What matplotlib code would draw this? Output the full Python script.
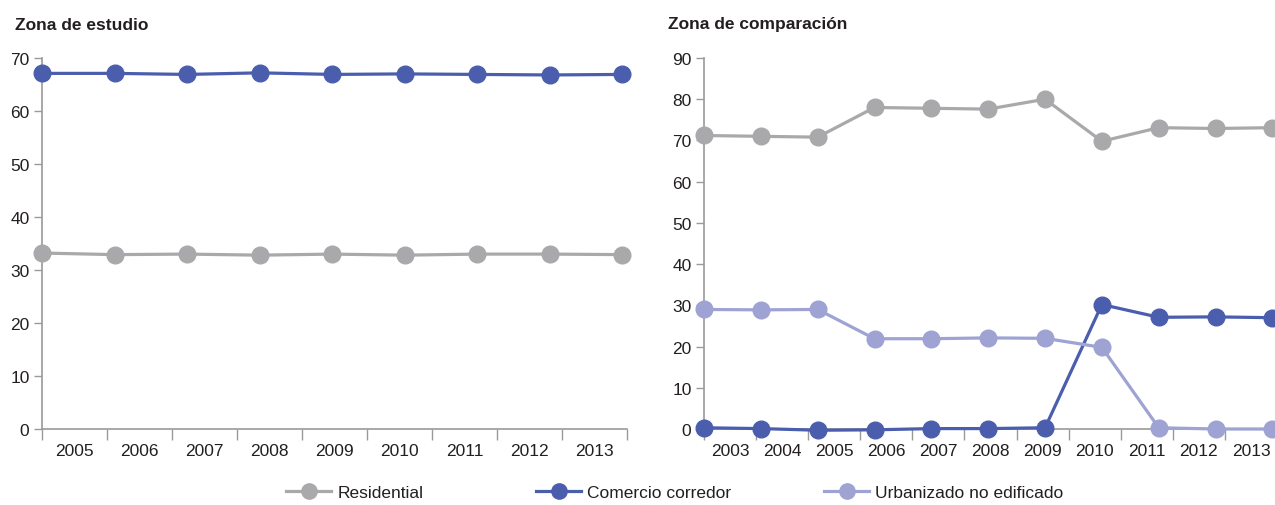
import numpy as np
import matplotlib.pyplot as plt
from matplotlib.lines import Line2D

plt.rcParams['font.family'] = ['Liberation Sans Narrow', 'Liberation Sans', 'DejaVu Sans']

# ------------------------------------------------------------
# datos
# ------------------------------------------------------------
years_estudio = ['2005', '2006', '2007', '2008', '2009', '2010', '2011', '2012', '2013']
estudio_residential = [33.2, 32.9, 33.0, 32.8, 33.0, 32.8, 33.0, 33.0, 32.9]
estudio_comercio = [67.1, 67.1, 66.9, 67.2, 66.9, 67.0, 66.9, 66.8, 66.9]

years_comp = ['2003', '2004', '2005', '2006', '2007', '2008', '2009',
              '2010', '2011', '2012', '2013']
comp_residential = [71.2, 71.0, 70.8, 78.0, 77.8, 77.6, 80.0, 69.8, 73.1, 72.9, 73.1]
comp_comercio = [0.3, 0.1, -0.3, -0.2, 0.1, 0.1, 0.3, 30.2, 27.1, 27.2, 27.0]
comp_urbanizado = [29.0, 28.9, 29.0, 21.9, 21.9, 22.1, 22.0, 19.8, 0.3, 0.0, 0.0]

legend_labels = ['Residential', 'Comercio corredor', 'Urbanizado no edificado']

GRIS = '#a9a9ab'
AZUL = '#4a5ead'
LILA = '#9ea3d3'
EJE = '#9a9a9a'
TXT = '#231f20'

fig = plt.figure(figsize=(12.75, 5.06), dpi=100)
ax1 = fig.add_axes([42 / 1275, 76 / 506, 585 / 1275, 371 / 506])
ax2 = fig.add_axes([704 / 1275, 76 / 506, 573 / 1275, 371 / 506])


def panel(ax, labels, series, ymax, title, tx):
    n = len(labels)
    # los puntos ocupan todo el ancho del eje; las etiquetas van entre marcas
    xs = np.linspace(0, n * 0.992, n)
    for vals, color in series:
        ax.plot(xs, vals, color=color, lw=2.3, marker='o', ms=12,
                clip_on=False, zorder=3)
    ax.set_xlim(0, n)
    ax.set_ylim(0, ymax)
    ax.set_yticks(range(0, ymax + 1, 10))
    ax.set_xticks(np.arange(0, n + 1))
    ax.set_xticklabels([])
    ax.set_xticks(np.arange(n) + 0.5, minor=True)
    ax.set_xticklabels(labels, minor=True)
    ax.tick_params(axis='x', which='major', length=8, color=EJE, width=1)
    ax.tick_params(axis='x', which='minor', length=0, pad=10,
                   labelsize=12.5, labelcolor=TXT)
    ax.tick_params(axis='y', length=6, color=EJE, width=1, pad=3,
                   labelsize=12.5, labelcolor=TXT)
    for s in ['top', 'right']:
        ax.spines[s].set_visible(False)
    for s in ['left', 'bottom']:
        ax.spines[s].set_color(EJE)
        ax.spines[s].set_linewidth(1.2)
    fig.text(tx / 1275, 1 - 25 / 506, title, fontsize=12.5, fontweight='bold',
             color=TXT, va='center', ha='left')


panel(ax1, years_estudio,
      [(estudio_residential, GRIS), (estudio_comercio, AZUL)],
      70, 'Zona de estudio', 15)
panel(ax2, years_comp,
      [(comp_residential, GRIS), (comp_comercio, AZUL), (comp_urbanizado, LILA)],
      90, 'Zona de comparación', 668)

# leyenda: una entrada por posición, como en el original
for lab, color, x0 in zip(legend_labels, (GRIS, AZUL, LILA), (286, 536, 824)):
    h = Line2D([], [], color=color, lw=2.3, marker='o', ms=11)
    fig.legend([h], [lab], loc='center left',
               bbox_to_anchor=(x0 / 1275, 1 - 493 / 506), frameon=False,
               fontsize=12.5, handlelength=2.6, handletextpad=0.35,
               borderpad=0, borderaxespad=0, labelcolor=TXT)

fig.savefig('out.png', dpi=100)
